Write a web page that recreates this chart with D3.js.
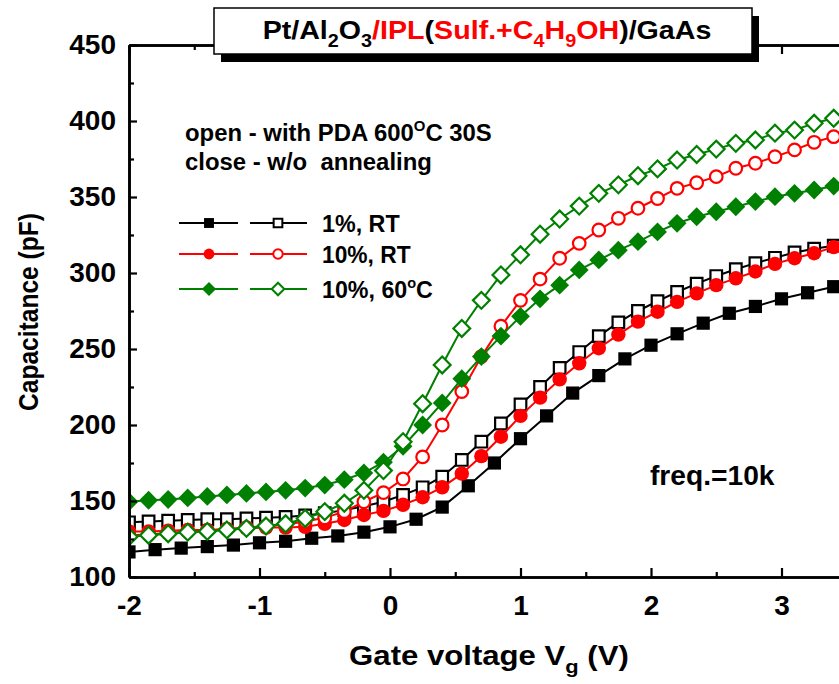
<!DOCTYPE html>
<html><head><meta charset="utf-8">
<script src="https://cdn.jsdelivr.net/npm/d3@7"></script>
<style>
body{margin:0;background:#fff}
svg{display:block}
text{font-family:"Liberation Sans",Arial,sans-serif;font-weight:bold}
</style>
</head><body>
<svg id="c" width="839" height="684"></svg>
<script>
// ---------- data ----------
const vFine = [-2,-1.85,-1.7,-1.55,-1.4,-1.25,-1.1,-0.95,-0.8,-0.65,-0.5,-0.35,-0.2,-0.05,0.1,0.25,0.4,0.55,0.7,0.85,1.0,1.15,1.3,1.45,1.6,1.75,1.9,2.05,2.2,2.35,2.5,2.65,2.8,2.95,3.1,3.25,3.4];
const vCoarse = [-2,-1.8,-1.6,-1.4,-1.2,-1.0,-0.8,-0.6,-0.4,-0.2,0,0.2,0.4,0.6,0.8,1.0,1.2,1.4,1.6,1.8,2.0,2.2,2.4,2.6,2.8,3.0,3.2,3.4];

// 1%, RT w/o annealing (closed squares)
const c1RT_close = [116.5,118,119,120,121,122.5,123.5,125.5,127,129.5,133,138,146,160,175,191,206,221,232.5,243.5,252.5,260,267,273.5,278,283,287,291];
// 1%, RT with PDA (open squares)
const c1RT_open = [136,136.5,137,137.5,138,138,138.5,139,139.5,140.5,142,144,146.5,149.5,154,159,166,177,189,201,213.5,225,237.5,248,258.5,267.5,275,281.5,287.5,293,298,302.5,306.5,310,313.5,316,318];
// 10%, RT w/o annealing (closed circles)
const c10RT_close = [130,130,130.5,131,131,131.5,132,132.5,132.5,133,135,137.5,140.8,143.5,147.5,152.5,159,168,179.5,192.3,206,218,230,240.6,250.5,259.5,268,274.5,281,286.6,292,296.5,301,306,309.7,313,317];
// 10%, RT with PDA (open circles)
const c10RT_open = [127.5,128,129,130,130.5,131.5,132.5,133.5,134.5,136.5,139,143,149.5,155.5,164.5,179,200,222,245,265,282,296,309.7,319.5,328.3,336,342.6,349,355.7,359.4,363.4,368.9,372.2,376.5,381,386,389.7];
// 10%, 60C w/o annealing (closed diamonds)
const c10_60_close = [149.5,150.5,151,152,153,154,155,156,157,158.5,160.5,164,168.5,175.5,186,200,214.5,230.5,245,258.5,271.5,283,292,302,308.6,315,320.6,327,332.7,337,340.3,343.6,347,350.2,352.4,354.6,357.2];
// 10%, 60C with PDA (open diamonds)
const c10_60_open = [126.5,127.5,128.5,129.5,130,131,132,133.5,135,138.5,143,148.5,157,170,189,214,239.5,263.5,282,298.7,312,325.5,335.5,344,352.4,358,364,368.5,374.3,378,381.5,385.3,387.5,392,394,398.5,401.8];

const xTicks = [-2,-1,0,1,2,3];
const xMinor = [-1.5,-0.5,0.5,1.5,2.5,3.5];
const yTicks = [100,150,200,250,300,350,400,450];
const yMinor = [125,175,225,275,325,375,425];

const legendLabels = ["1%, RT","10%, RT","10%, 60"];

// ---------- setup ----------
const svg = d3.select("#c");
const X0 = 129, Y0 = 577, YT = 45;
const x = d3.scaleLinear().domain([-2, 3.5]).range([X0, X0 + 5.5*130.5]);
const y = d3.scaleLinear().domain([100, 450]).range([Y0, YT]);

svg.append("defs").append("clipPath").attr("id","plot")
  .append("rect").attr("x",X0).attr("y",YT).attr("width",900).attr("height",Y0-YT);

const sqPath = h => `M${-h},${-h}H${h}V${h}H${-h}Z`;
const diPath = r => `M0,${-r}L${r},0L0,${r}L${-r},0Z`;
const ciPath = r => `M${r},0A${r},${r} 0 1,1 ${-r},0A${r},${r} 0 1,1 ${r},0Z`;

const series = [
  {xs:vCoarse, ys:c1RT_close, color:"#000", shape:"sq", open:false},
  {xs:vFine, ys:c1RT_open, color:"#000", shape:"sq", open:true},
  {xs:vFine, ys:c10RT_close, color:"#ff0000", shape:"ci", open:false},
  {xs:vFine, ys:c10RT_open, color:"#ff0000", shape:"ci", open:true},
  {xs:vFine, ys:c10_60_close, color:"#008000", shape:"di", open:false},
  {xs:vFine, ys:c10_60_open, color:"#008000", shape:"di", open:true},
];
function markerPath(shape, open, scale){
  scale = scale || 1;
  if (shape==="sq") return sqPath((open?5.8:6.6)*scale);
  if (shape==="ci") return ciPath((open?6.3:7.2)*scale);
  return diPath((open?8.4:9.4)*scale);
}

const plot = svg.append("g").attr("clip-path","url(#plot)");
const line = d3.line().x(d=>x(d[0])).y(d=>y(d[1]));
series.forEach(s=>{
  const pts = s.xs.map((v,i)=>[v, s.ys[i]]);
  const g = plot.append("g");
  g.append("path").attr("d", line(pts)).attr("fill","none").attr("stroke", s.color).attr("stroke-width",2);
  g.selectAll("path.m").data(pts).enter().append("path").attr("class","m")
    .attr("transform", d=>`translate(${x(d[0])},${y(d[1])})`)
    .attr("d", markerPath(s.shape, s.open))
    .attr("fill", s.open ? "#fff" : s.color)
    .attr("stroke", s.open ? s.color : "none")
    .attr("stroke-width", 2.2);
});

// ---------- axes ----------
const axStyle = g => {
  g.selectAll("path.domain").attr("stroke","#000").attr("stroke-width",2.6);
  g.selectAll(".tick line").attr("stroke","#000").attr("stroke-width",2.2);
  g.selectAll("text").attr("fill","#000").style("font-size","28px").style("font-family",'"Liberation Sans",Arial,sans-serif').style("font-weight","bold");
};
svg.append("g").attr("transform",`translate(0,${Y0})`)
  .call(d3.axisBottom(x).tickValues(xMinor).tickSize(-5).tickSizeOuter(0).tickFormat("")).call(axStyle);
svg.append("g").attr("transform",`translate(0,${Y0})`)
  .call(d3.axisBottom(x).tickValues(xTicks).tickSize(-9).tickSizeOuter(0).tickPadding(18).tickFormat(d3.format("d"))).call(axStyle);
svg.append("g").attr("transform",`translate(0,${YT})`)
  .call(d3.axisTop(x).tickValues(xMinor).tickSize(-5).tickSizeOuter(0).tickFormat("")).call(axStyle);
svg.append("g").attr("transform",`translate(0,${YT})`)
  .call(d3.axisTop(x).tickValues(xTicks).tickSize(-9).tickSizeOuter(0).tickFormat("")).call(axStyle);
svg.append("g").attr("transform",`translate(${X0},0)`)
  .call(d3.axisLeft(y).tickValues(yMinor).tickSize(-5).tickSizeOuter(0).tickFormat("")).call(axStyle);
svg.append("g").attr("transform",`translate(${X0},0)`)
  .call(d3.axisLeft(y).tickValues(yTicks).tickSize(-8).tickSizeOuter(0).tickPadding(13).tickFormat(d3.format("d"))).call(axStyle);

// hyphen-style minus
svg.selectAll(".tick text").each(function(){
  this.textContent = this.textContent.replace("\u2212","-");
});

// ---------- helper: horizontal fit ----------
function fitX(node, target, ax){
  const w = node.getBBox().width;
  const k = target / w;
  node.setAttribute("transform", `translate(${ax},0) scale(${k},1) translate(${-ax},0)`);
}

// ---------- axis titles ----------
const yt = svg.append("text").attr("text-anchor","middle").style("font-size","27px")
  .attr("transform","translate(38,312) rotate(-90)").text("Capacitance (pF)");
{
  const w = yt.node().getBBox().width;
  yt.attr("transform",`translate(38,312) rotate(-90) scale(${198/w},1)`);
}
const xt = svg.append("text").attr("x",489).attr("y",665).attr("text-anchor","middle").style("font-size","27px");
xt.append("tspan").text("Gate voltage V");
xt.append("tspan").attr("dy",8).style("font-size","19px").text("g");
xt.append("tspan").attr("dy",-8).text(" (V)");
fitX(xt.node(), 280, 489);

// ---------- title box ----------
svg.append("rect").attr("x",221).attr("y",16).attr("width",538).attr("height",46).attr("fill","#000");
svg.append("rect").attr("x",214).attr("y",8).attr("width",538).attr("height",46).attr("fill","#fff").attr("stroke","#000").attr("stroke-width",1.5);
const tt = svg.append("text").attr("x",487).attr("y",39).attr("text-anchor","middle").style("font-size","26px");
const titleParts = [
  ["Pt/Al","#000",0],["2","#000",1],["O","#000",-1],["3","#000",1],["/IPL","#ff0000",-1],["(","#000",0],
  ["Sulf.+C","#ff0000",0],["4","#ff0000",1],["H","#ff0000",-1],["9","#ff0000",1],["OH","#ff0000",-1],[")/GaAs","#000",0]
];
titleParts.forEach(([t,c,s])=>{
  const ts = tt.append("tspan").attr("fill",c).text(t);
  if (s===1) ts.attr("dy",8).style("font-size","18px");
  else if (s===-1) ts.attr("dy",-8);
});
fitX(tt.node(), 449, 487);

// ---------- annotations ----------
const a1 = svg.append("text").attr("x",185).attr("y",141).style("font-size","24px");
a1.append("tspan").text("open - with PDA 600");
a1.append("tspan").attr("dy",-10).style("font-size","15px").text("O");
a1.append("tspan").attr("dy",10).text("C 30S");
fitX(a1.node(), 307, 185);
const a2 = svg.append("text").attr("x",185).attr("y",170).style("font-size","24px").attr("xml:space","preserve").text("close - w/o  annealing");
fitX(a2.node(), 247, 185);

const fq = svg.append("text").attr("x",650).attr("y",485).style("font-size","28px").text("freq.=10k");
fitX(fq.node(), 125, 650);

// ---------- legend ----------
const legY = [223, 254, 289];
const legendSeries = [[series[0],series[1]],[series[2],series[3]],[series[4],series[5]]];
const legW = [78, 89, 111];
legendSeries.forEach((pair,i)=>{
  const yy = legY[i];
  [[179,238,209],[250,307,278]].forEach(([x1,x2,xm],j)=>{
    const s = pair[j];
    svg.append("line").attr("x1",x1).attr("x2",x2).attr("y1",yy).attr("y2",yy).attr("stroke",s.color).attr("stroke-width",2);
    svg.append("path").attr("transform",`translate(${xm},${yy})`).attr("d",markerPath(s.shape,s.open,0.75))
      .attr("fill", s.open ? "#fff" : s.color).attr("stroke", s.open ? s.color : "none").attr("stroke-width",2);
  });
  const t = svg.append("text").attr("x",322).attr("y",yy+9).style("font-size","24px");
  t.append("tspan").text(legendLabels[i]);
  if (i===2){
    t.append("tspan").attr("dy",-10).style("font-size","15px").text("o");
    t.append("tspan").attr("dy",10).text("C");
  }
  fitX(t.node(), legW[i], 322);
});
</script>
</body></html>
